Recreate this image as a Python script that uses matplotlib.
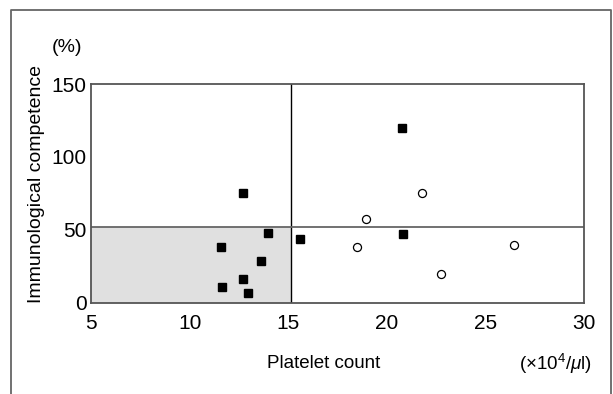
import matplotlib
matplotlib.use("Agg")
import matplotlib.pyplot as plt
from matplotlib.lines import Line2D
from matplotlib.patches import Rectangle

plt.rcParams["font.family"] = ["Liberation Sans", "DejaVu Sans"]
plt.rcParams["mathtext.fontset"] = "custom"
plt.rcParams["mathtext.rm"] = "Liberation Sans"
plt.rcParams["mathtext.it"] = "Liberation Sans:italic"

# filled squares
sq_x = [12.7, 13.95, 11.6, 13.6, 12.7, 11.65, 12.95, 15.6, 20.75, 20.8]
sq_y = [75, 47.5, 38, 28.5, 16.5, 10.5, 6.5, 43.5, 120, 47]
# open circles
ci_x = [21.8, 18.95, 18.5, 26.45, 22.75]
ci_y = [75.5, 57.5, 38, 39.5, 20]

x_cut = 15.15
y_cut = 52
xticks = [5, 10, 15, 20, 25, 30]
yticks = [0, 50, 100, 150]

W, H = 613, 394
fig = plt.figure(figsize=(W / 100, H / 100), dpi=100)
ax = fig.add_axes([91 / W, 1 - 302.7 / H, (584.3 - 91) / W, (302.7 - 84) / H])

ax.add_patch(Rectangle((5, 0), x_cut - 5, y_cut, facecolor="#e0e0e0", edgecolor="none", zorder=0))
ax.axvline(x_cut, color="black", lw=1.0, zorder=1)
ax.axhline(y_cut, color="#666666", lw=1.3, zorder=1)

ax.plot(sq_x, sq_y, "s", color="black", markersize=5.6, zorder=3)
ax.plot(ci_x, ci_y, "o", markerfacecolor="white", markeredgecolor="black",
        markeredgewidth=0.9, markersize=5.8, zorder=3)

ax.set_xlim(5, 30)
ax.set_ylim(0, 150)
ax.set_xticks(xticks)
ax.set_yticks(yticks)
ax.tick_params(axis="both", length=0, labelsize=15)
ax.tick_params(axis="x", pad=8)
ax.tick_params(axis="y", pad=3)
for s in ax.spines.values():
    s.set_color("#555555")
    s.set_linewidth(1.3)

fig.text(67 / W, 1 - 48 / H, "(%)", fontsize=14, ha="center", va="center")
fig.text(36.5 / W, 1 - 184 / H, "Immunological competence", fontsize=14,
         rotation=90, ha="center", va="center")
fig.text(324 / W, 1 - 364 / H, "Platelet count", fontsize=13.5, ha="center", va="center")
fig.text(592 / W, 1 - 364 / H, r"($\times$10$^4$/$\mu$l)", fontsize=13.5, ha="right", va="center")

# outer frame (open at bottom)
fig.add_artist(Line2D([11 / W, 11 / W, 611 / W, 611 / W], [0, 1 - 10 / H, 1 - 10 / H, 0],
                      transform=fig.transFigure, color="#666666", lw=1.3))

fig.savefig("out.png", dpi=100)
